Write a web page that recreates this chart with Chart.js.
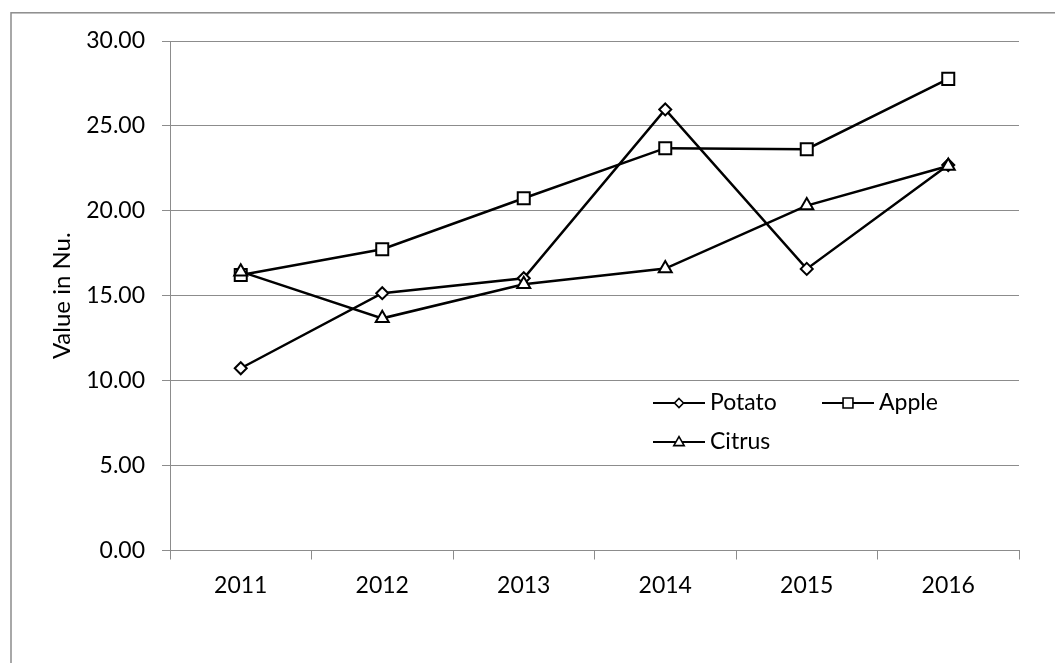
<!DOCTYPE html>
<html>
<head>
<meta charset="utf-8">
<script src="https://cdn.jsdelivr.net/npm/chart.js@4/dist/chart.umd.min.js"></script>
<style>
  html, body { margin: 0; padding: 0; background: #fff; }
  #wrap { width: 1055px; height: 663px; position: relative; }
</style>
</head>
<body>
<div id="wrap"><canvas id="c" width="1055" height="663"></canvas></div>
<script>
// Years on the category axis
const years = ['2011', '2012', '2013', '2014', '2015', '2016'];

// Average price per kg (Nu.)
const potato = [10.73, 15.15, 16.03, 25.97, 16.58, 22.70];
const apple  = [16.22, 17.74, 20.74, 23.69, 23.63, 27.77];
const citrus = [16.42, 13.67, 15.68, 16.60, 20.31, 22.64];

const seriesNames = ['Potato', 'Apple', 'Citrus'];
const axisTitle = 'Value in Nu.';

const FONT = 'Lato';
const GRID = '#8c8c8c';

// Draws a marker of the given kind (diamond / square / triangle)
function marker(ctx, kind, x, y, r) {
  ctx.beginPath();
  if (kind === 'rectRot') {
    ctx.moveTo(x, y - r); ctx.lineTo(x + r, y); ctx.lineTo(x, y + r); ctx.lineTo(x - r, y);
  } else if (kind === 'rect') {
    const s = r * Math.SQRT1_2;
    ctx.rect(x - s, y - s, 2 * s, 2 * s);
  } else {
    const h = r * 1.5, w = r * Math.sqrt(3) / 2;
    ctx.moveTo(x, y - h * 0.6); ctx.lineTo(x + w, y + h * 0.4); ctx.lineTo(x - w, y + h * 0.4);
  }
  ctx.closePath();
  ctx.fillStyle = '#fff';
  ctx.fill();
  ctx.stroke();
}

// Frame around the whole chart and the in-plot key
const decorations = {
  id: 'decorations',
  beforeDraw(chart) {
    const ctx = chart.ctx;
    ctx.save();
    ctx.strokeStyle = GRID;
    ctx.lineWidth = 1.5;
    ctx.strokeRect(11, 12.8, 1200, 800);
    ctx.restore();
  },
  afterDraw(chart) {
    const ctx = chart.ctx;
    const items = [
      { name: seriesNames[0], kind: 'rectRot', r: 4.5, x: 653, y: 403 },
      { name: seriesNames[1], kind: 'rect', r: 7, x: 822, y: 403 },
      { name: seriesNames[2], kind: 'triangle', r: 6, x: 653, y: 442 }
    ];
    ctx.save();
    ctx.strokeStyle = '#000';
    ctx.lineWidth = 2;
    ctx.font = '23px ' + FONT;
    ctx.textBaseline = 'middle';
    ctx.fillStyle = '#000';
    items.forEach(it => {
      ctx.beginPath();
      ctx.moveTo(it.x, it.y);
      ctx.lineTo(it.x + 52, it.y);
      ctx.stroke();
      ctx.lineWidth = 1.6;
      marker(ctx, it.kind, it.x + 26, it.y, it.r);
      ctx.lineWidth = 2;
      ctx.fillStyle = '#000';
      ctx.fillText(it.name, it.x + 57, it.y);
    });
    ctx.restore();
  }
};

function series(label, data, style, radius, order) {
  return {
    label, data, order,
    borderColor: '#000',
    borderWidth: 2.5,
    pointStyle: style,
    pointRadius: radius,
    pointHoverRadius: radius,
    pointBackgroundColor: '#fff',
    pointBorderColor: '#000',
    pointBorderWidth: 2,
    tension: 0,
    fill: false
  };
}

new Chart(document.getElementById('c'), {
  type: 'line',
  data: {
    labels: years,
    datasets: [
      series(seriesNames[0], potato, 'rectRot', 6, 2),
      series(seriesNames[1], apple, 'rect', 8.5, 1),
      series(seriesNames[2], citrus, 'triangle', 7.5, 0)
    ]
  },
  options: {
    responsive: false,
    animation: false,
    events: [],
    layout: { padding: { top: 41, right: 36, left: 0, bottom: 0 } },
    plugins: {
      legend: { display: false },
      tooltip: { enabled: false }
    },
    scales: {
      x: {
        type: 'category',
        offset: true,
        afterFit(s) { s.height = 112.5; },
        grid: {
          display: true, drawOnChartArea: false, offset: true,
          tickLength: 9, color: GRID, lineWidth: 1
        },
        border: { display: true, color: GRID, width: 1 },
        ticks: { color: '#000', font: { family: FONT, size: 23 }, padding: 12, maxRotation: 0 }
      },
      y: {
        min: 0, max: 30,
        afterFit(s) { s.width = 170; },
        grid: { color: GRID, lineWidth: 1, tickLength: 8, drawTicks: true },
        border: { display: true, color: GRID, width: 1 },
        ticks: {
          stepSize: 5, color: '#000', padding: 17,
          font: { family: FONT, size: 23 },
          callback: v => Number(v).toFixed(2)
        },
        title: {
          display: true, text: axisTitle, color: '#000',
          font: { family: FONT, size: 24 },
          padding: { top: 48, bottom: 0 }
        }
      }
    }
  },
  plugins: [decorations]
});
</script>
</body>
</html>
